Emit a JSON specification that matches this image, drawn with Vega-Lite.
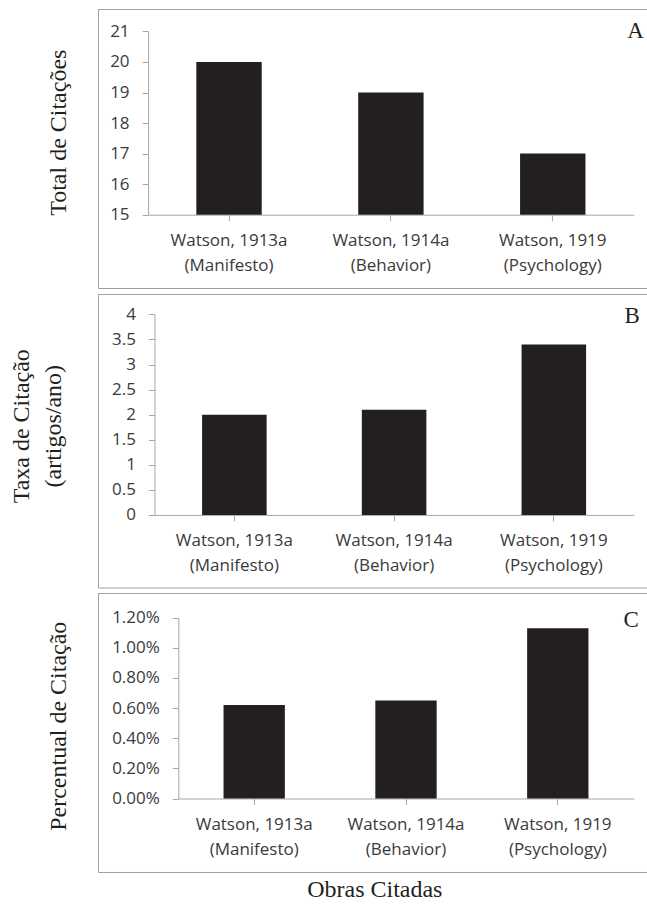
{
  "$schema": "https://vega.github.io/schema/vega-lite/v6.json",
  "padding": {"left": 9, "top": 8, "right": 0, "bottom": 0},
  "spacing": 4,
  "datasets": {
    "d": [
      {"obra": "Watson, 1913a\n(Manifesto)", "total": 20, "taxa": 2.0, "pct": 0.0062},
      {"obra": "Watson, 1914a\n(Behavior)", "total": 19, "taxa": 2.1, "pct": 0.0065},
      {"obra": "Watson, 1919\n(Psychology)", "total": 17, "taxa": 3.4, "pct": 0.0113}
    ],
    "letters": [{"painel": "A", "topo": 21}, {"painel": "B", "topo": 4}, {"painel": "C", "topo": 0.012}]
  },
  "vconcat": [
    {
      "width": 549.3,
      "height": 279,
      "layer": [
        {
          "data": {"name": "d"},
          "mark": {"type": "bar", "color": "#231f20"},
          "encoding": {
            "x": {"field": "obra", "type": "nominal", "sort": null,
              "scale": {"range": [50.1, 535.7], "paddingInner": 0.596, "paddingOuter": 0.298},
              "axis": {"title": null, "offset": -73.3, "labelExpr": "split(datum.label, '\\n')"}},
            "y": {"field": "total", "type": "quantitative",
              "scale": {"domain": [15, 21], "range": [205.7, 22.4], "nice": false, "zero": false},
              "axis": {"values": [15, 16, 17, 18, 19, 20, 21], "tickCount": 12, "format": "~g", "offset": -50.1, "title": "Total de Citações", "titleX": -82.6, "titleY": 123.2, "titleBaseline": "alphabetic"}},
            "y2": {"datum": 15}
          }
        },
        {
          "data": {"name": "letters"},
          "transform": [{"filter": "datum.painel == 'A'"}],
          "mark": {"type": "text", "font": "Liberation Serif", "fontSize": 23, "align": "right", "baseline": "alphabetic", "color": "#231f20", "dx": -3.5, "dy": 6.6},
          "encoding": {
            "x": {"value": "width"},
            "y": {"field": "topo", "type": "quantitative"},
            "text": {"field": "painel"}
          }
        }
      ]
    },
    {
      "width": 549.3,
      "height": 293.5,
      "resolve": {"axis": {"y": "independent"}},
      "layer": [
        {
          "data": {"name": "d"},
          "mark": {"type": "bar", "color": "#231f20"},
          "encoding": {
            "x": {"field": "obra", "type": "nominal", "sort": null,
              "scale": {"range": [56.5, 535.7], "paddingInner": 0.596, "paddingOuter": 0.298},
              "axis": {"title": null, "offset": -72.6, "labelExpr": "split(datum.label, '\\n')"}},
            "y": {"field": "taxa", "type": "quantitative",
              "scale": {"domain": [0, 4], "range": [220.9, 20.4], "nice": false},
              "axis": {"values": [0, 0.5, 1, 1.5, 2, 2.5, 3, 3.5, 4], "tickCount": 12, "format": "~g", "labelOverlap": false, "offset": -56.5, "title": "Taxa de Citação", "titleX": -125.6, "titleY": 131.7, "titleBaseline": "alphabetic"}},
            "y2": {"datum": 0}
          }
        },
        {
          "data": {"name": "letters"},
          "transform": [{"filter": "datum.painel == 'B'"}],
          "mark": {"type": "text", "font": "Liberation Serif", "fontSize": 23, "align": "right", "baseline": "alphabetic", "color": "#231f20", "dx": -7.5, "dy": 8.3},
          "encoding": {
            "x": {"value": "width"},
            "y": {"field": "topo", "type": "quantitative",
              "axis": {"orient": "left", "domain": false, "ticks": false, "labels": false, "grid": false, "offset": -56.5, "title": "(artigos/ano)", "titleX": -94, "titleY": 131.7, "titleBaseline": "alphabetic"}},
            "text": {"field": "painel"}
          }
        }
      ]
    },
    {
      "width": 549.3,
      "height": 279,
      "layer": [
        {
          "data": {"name": "d"},
          "mark": {"type": "bar", "color": "#231f20"},
          "encoding": {
            "x": {"field": "obra", "type": "nominal", "sort": null,
              "scale": {"range": [80.3, 535.7], "paddingInner": 0.596, "paddingOuter": 0.298},
              "axis": {"title": "Obras Citadas", "titleX": 276.3, "titleY": 97.7, "titleBaseline": "alphabetic", "offset": -73.5, "labelExpr": "split(datum.label, '\\n')"}},
            "y": {"field": "pct", "type": "quantitative",
              "scale": {"domain": [0, 0.012], "range": [205.5, 24.7], "nice": false},
              "axis": {"values": [0, 0.002, 0.004, 0.006, 0.008, 0.01, 0.012], "tickCount": 12, "format": ".2%", "labelOverlap": false, "offset": -80.3, "title": "Percentual de Citação", "titleX": -112.8, "titleY": 132.7, "titleBaseline": "alphabetic"}},
            "y2": {"datum": 0}
          }
        },
        {
          "data": {"name": "letters"},
          "transform": [{"filter": "datum.painel == 'C'"}],
          "mark": {"type": "text", "font": "Liberation Serif", "fontSize": 23, "align": "right", "baseline": "alphabetic", "color": "#231f20", "dx": -8.5, "dy": 9},
          "encoding": {
            "x": {"value": "width"},
            "y": {"field": "topo", "type": "quantitative"},
            "text": {"field": "painel"}
          }
        }
      ]
    }
  ],
  "config": {
    "view": {"stroke": "#a0a0a0", "strokeWidth": 1},
    "axis": {
      "grid": false,
      "domainColor": "#a6a6a6",
      "tickColor": "#a6a6a6",
      "domainWidth": 1,
      "tickWidth": 1,
      "tickSize": 6,
      "labelFont": "Open Sans",
      "labelFontSize": 17,
      "labelColor": "#3a3a3a",
      "titleFont": "Liberation Serif",
      "titleFontSize": 24,
      "titleFontWeight": "normal",
      "titleColor": "#231f20"
    },
    "axisY": {"labelPadding": 13, "labelOverlap": false},
    "axisX": {"labelPadding": 12, "labelLineHeight": 25, "labelAngle": 0, "labelOverlap": false}
  }
}
